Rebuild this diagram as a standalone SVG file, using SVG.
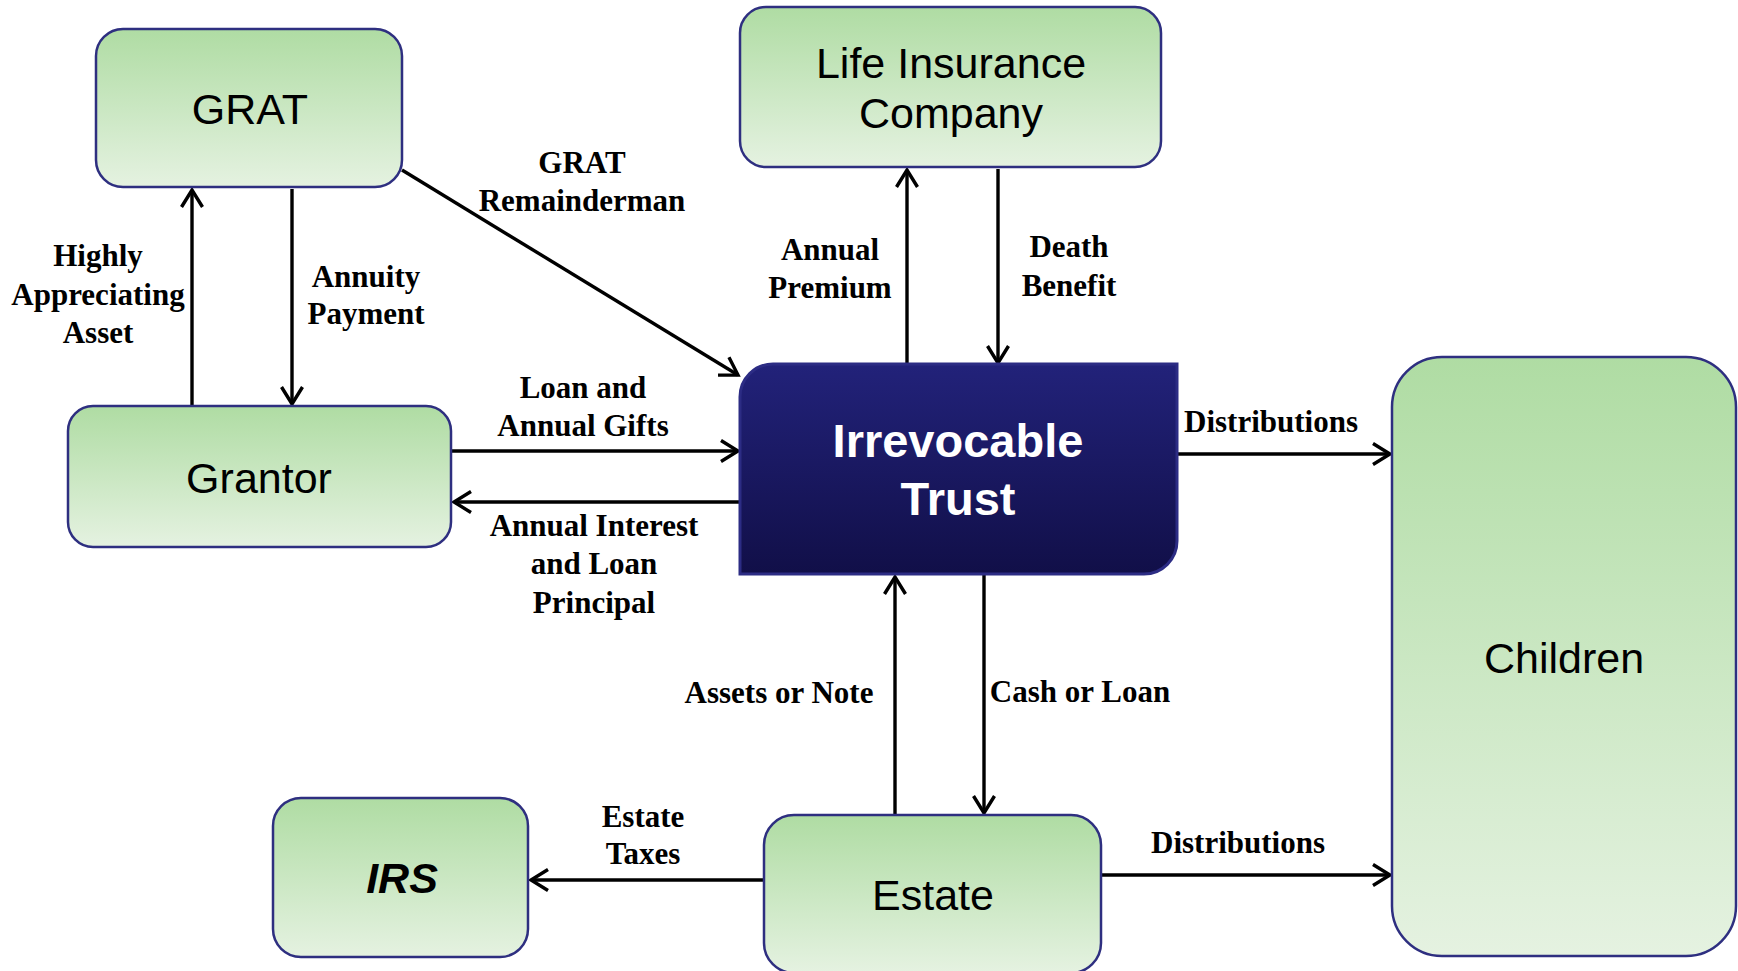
<svg xmlns="http://www.w3.org/2000/svg" width="1738" height="971" viewBox="0 0 1738 971">
<defs>
<linearGradient id="gg" x1="0" y1="0" x2="0" y2="1">
<stop offset="0" stop-color="#afdca3"/>
<stop offset="1" stop-color="#e5f2e1"/>
</linearGradient>
<linearGradient id="bg" x1="0" y1="0" x2="0" y2="1">
<stop offset="0" stop-color="#22227a"/>
<stop offset="1" stop-color="#110f48"/>
</linearGradient>
<marker id="arr" viewBox="-20 -12 22 24" refX="0" refY="0" markerWidth="22" markerHeight="24" markerUnits="userSpaceOnUse" orient="auto" overflow="visible">
<path d="M-17,-10.5 L0,0 L-17,10.5" fill="none" stroke="#000" stroke-width="3.4"/>
</marker>
<style>
.box{fill:url(#gg);stroke:#2e2f80;stroke-width:2.5}
.nl{font-family:"Liberation Sans",Arial,sans-serif;font-size:43px;fill:#000;text-anchor:middle}
.el{font-family:"Liberation Serif","Times New Roman",serif;font-weight:bold;font-size:31px;fill:#000;text-anchor:middle}
.c{fill:none;stroke:#000;stroke-width:3.4;marker-end:url(#arr)}
</style>
</defs>
<rect width="1738" height="971" fill="#fff"/>
<g id="connectors">
<line class="c" x1="192" y1="406" x2="192" y2="190"/>
<line class="c" x1="292" y1="189" x2="292" y2="404"/>
<line class="c" x1="402" y1="170" x2="738" y2="375"/>
<line class="c" x1="451" y1="451" x2="738" y2="451"/>
<line class="c" x1="741" y1="502" x2="454" y2="502"/>
<line class="c" x1="907" y1="364" x2="907" y2="170"/>
<line class="c" x1="998" y1="169" x2="998" y2="363"/>
<line class="c" x1="1177" y1="454" x2="1390" y2="454"/>
<line class="c" x1="895" y1="815" x2="895" y2="577"/>
<line class="c" x1="984" y1="575" x2="984" y2="813"/>
<line class="c" x1="764" y1="880" x2="531" y2="880"/>
<line class="c" x1="1101" y1="875" x2="1390" y2="875"/>
<text class="el" x="98" y="266">Highly</text>
<text class="el" x="98" y="305">Appreciating</text>
<text class="el" x="98" y="343">Asset</text>
<text class="el" x="366" y="287">Annuity</text>
<text class="el" x="366" y="324">Payment</text>
<text class="el" x="582" y="173">GRAT</text>
<text class="el" x="582" y="211">Remainderman</text>
<text class="el" x="583" y="398">Loan and</text>
<text class="el" x="583" y="436">Annual Gifts</text>
<text class="el" x="594" y="536">Annual Interest</text>
<text class="el" x="594" y="574">and Loan</text>
<text class="el" x="594" y="613">Principal</text>
<text class="el" x="830" y="260">Annual</text>
<text class="el" x="830" y="298">Premium</text>
<text class="el" x="1069" y="257">Death</text>
<text class="el" x="1069" y="296">Benefit</text>
<text class="el" x="1271" y="432">Distributions</text>
<text class="el" x="779" y="703">Assets or Note</text>
<text class="el" x="1080" y="702">Cash or Loan</text>
<text class="el" x="643" y="827">Estate</text>
<text class="el" x="643" y="864">Taxes</text>
<text class="el" x="1238" y="853">Distributions</text>
</g>
<g id="grat">
<rect class="box" x="96" y="29" width="306" height="158" rx="27"/>
<text class="nl" x="250" y="124">GRAT</text>
</g>
<g id="grantor">
<rect class="box" x="68" y="406" width="383" height="141" rx="25"/>
<text class="nl" x="259" y="493">Grantor</text>
</g>
<g id="life-insurance">
<rect class="box" x="740" y="7" width="421" height="160" rx="26"/>
<text class="nl" x="951" y="78">Life Insurance</text>
<text class="nl" x="951" y="128">Company</text>
</g>
<g id="trust">
<path d="M773,364 H1177 V541 A33,33 0 0 1 1144,574 H740 V397 A33,33 0 0 1 773,364 Z" fill="url(#bg)" stroke="#2c2c84" stroke-width="3"/>
<text x="958" y="457" font-family="Liberation Sans,Arial,sans-serif" font-weight="bold" font-size="47" fill="#fff" text-anchor="middle">Irrevocable</text>
<text x="958" y="515" font-family="Liberation Sans,Arial,sans-serif" font-weight="bold" font-size="47" fill="#fff" text-anchor="middle">Trust</text>
</g>
<g id="children">
<rect class="box" x="1392" y="357" width="344" height="599" rx="50"/>
<text class="nl" x="1564" y="673">Children</text>
</g>
<g id="irs">
<rect class="box" x="273" y="798" width="255" height="159" rx="28"/>
<text class="nl" x="402" y="893" font-weight="bold" font-style="italic">IRS</text>
</g>
<g id="estate">
<rect class="box" x="764" y="815" width="337" height="158" rx="30"/>
<text class="nl" x="933" y="910">Estate</text>
</g>
</svg>
